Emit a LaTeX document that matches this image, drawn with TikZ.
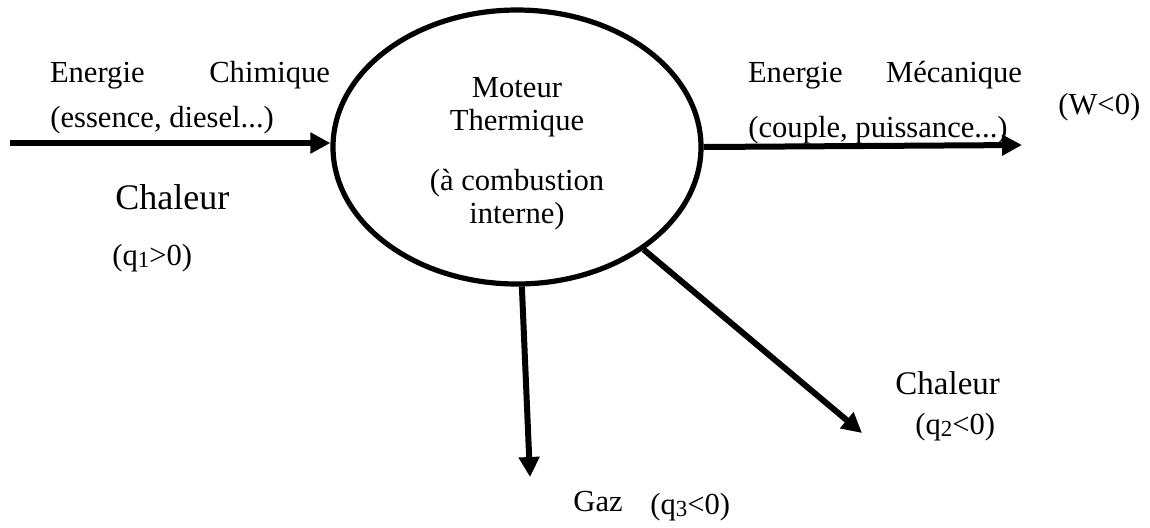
\documentclass[tikz,border=0pt]{standalone}
\usepackage{fontspec}
\setmainfont{Liberation Serif}
\usetikzlibrary{arrows.meta,shapes.geometric}
\newcommand{\qsub}[1]{\raisebox{-1.2pt}{\fontsize{11.5}{12}\selectfont #1}}
\tikzset{
  lbl/.style={inner sep=0pt, font=\fontsize{15.3}{16.5}\selectfont, anchor=center},
  flow/.style={line width=3pt, -{Triangle[length=10pt,width=10pt]}},
  engine/.style={ellipse, draw, line width=2.6pt, minimum width=184pt, minimum height=137pt, inner sep=0pt, align=center, font=\fontsize{15.3}{16.5}\selectfont}
}
\begin{document}
\begin{tikzpicture}[x=0.5pt,y=-0.5pt]
\useasboundingbox (0,0) rectangle (1150,527);
\node[engine] (mot) at (517,147) {\rule{0pt}{17pt}Moteur\\Thermique\\[13.5pt](à combustion\\interne)};
\coordinate (inS) at (10,143);
\coordinate (outE) at (1022,145);
\coordinate (gazE) at (530,477);
\coordinate (chE) at (862,433);
\draw[flow] (inS) -- (mot.west |- inS);
\draw[flow] (mot.east) -- (outE);
\draw[flow] (mot.-88) -- (gazE);
\draw[flow] (mot.-39) -- (chE);
\node[lbl] (ec) at (190,75) {\makebox[280\dimexpr0.5pt\relax][s]{Energie\hfill Chimique}};
\node[lbl,anchor=west] (ed) at (50,120) {(essence, diesel...)};
\node[lbl,anchor=west,font=\fontsize{18}{20}\selectfont] (ch1) at (115,197) {Chaleur};
\node[lbl,anchor=west] (q1) at (112,258) {(q\qsub{1}>0)};
\node[lbl] (em) at (885,75) {\makebox[274\dimexpr0.5pt\relax][s]{Energie\hfill Mécanique}};
\node[lbl,anchor=west] (cp) at (748,130) {(couple, puissance...)};
\node[lbl,anchor=west] (w) at (1058,107) {(W<0)};
\node[lbl,anchor=west,font=\fontsize{16.5}{19}\selectfont] (ch2) at (895,383) {Chaleur};
\node[lbl,anchor=west] (q2) at (915,427) {(q\qsub{2}<0)};
\node[lbl,anchor=west] (gaz) at (573,502) {Gaz};
\node[lbl,anchor=west] (q3) at (650,507) {(q\qsub{3}<0)};
\end{tikzpicture}
\end{document}
